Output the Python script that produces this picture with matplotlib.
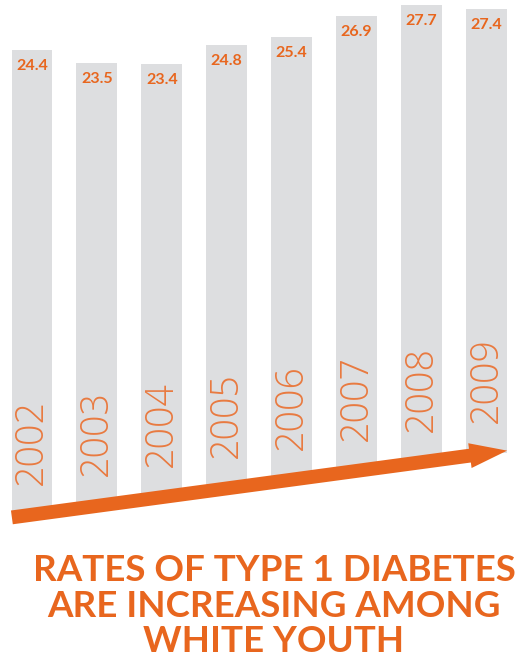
import numpy as np
import matplotlib.pyplot as plt

years = ['2002', '2003', '2004', '2005', '2006', '2007', '2008', '2009']
rates = [24.4, 23.5, 23.4, 24.8, 25.4, 26.9, 27.7, 27.4]
title_lines = ['RATES OF TYPE 1 DIABETES', 'ARE INCREASING AMONG', 'WHITE YOUTH']

orange = '#E8661E'
grey = '#DDDEE0'

fig = plt.figure(figsize=(5.25, 6.59), dpi=100)
ax = fig.add_axes([0, 0, 1, 1])
ax.set_xlim(-0.493, 7.596)
ax.set_ylim(-20.0, 28.07)
ax.axis('off')

x = np.arange(len(years))

# Rising arrow under the bars, bars sit on it
arrow_start = (-0.31, -9.67)
arrow_tip = (7.32, -4.80)
slope = (arrow_tip[1] - arrow_start[1]) / (arrow_tip[0] - arrow_start[0])
bottoms = arrow_start[1] + slope * (x - arrow_start[0])

ax.bar(x, np.array(rates) - bottoms, bottom=bottoms, width=0.63,
       color=grey, zorder=1)

ax.annotate('', xy=arrow_tip, xytext=arrow_start,
            arrowprops=dict(arrowstyle='simple,head_length=1.35,head_width=0.9,tail_width=0.5',
                            mutation_scale=20, color=orange, lw=0,
                            shrinkA=0, shrinkB=0),
            zorder=3)

# Value labels near the top of each bar
for xi, r in zip(x, rates):
    ax.text(xi, r - 1.17, f'{r}', ha='center', va='center', fontsize=11.5,
            fontweight='bold', color=orange, family=['Lato', 'DejaVu Sans'],
            zorder=2)

# Year labels, rotated, at the bottom of each bar
for xi, b, yr in zip(x, bottoms, years):
    ax.text(xi, b + 2.2, yr, rotation=90, ha='center', va='bottom',
            fontsize=27, fontweight='light', color='#E97A40',
            family=['Open Sans', 'DejaVu Sans'], zorder=2)

# Headline under the chart
title_y = [0.1180, 0.0640, 0.0100]
for line, ty in zip(title_lines, title_y):
    fig.text(0.522, ty, line, ha='center', va='baseline', fontsize=26.5,
             fontweight='bold', color=orange,
             family=['Lato', 'DejaVu Sans'])

fig.savefig('out.png', dpi=100)
